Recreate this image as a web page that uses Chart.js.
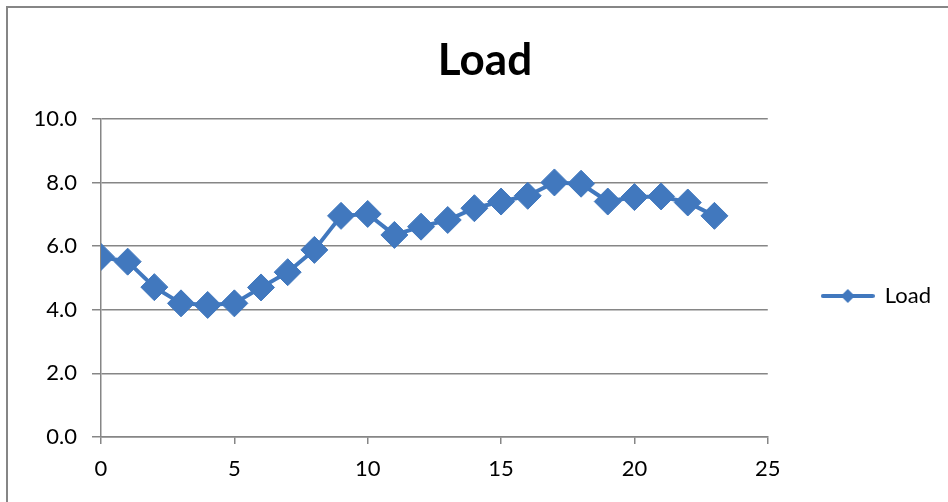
<!DOCTYPE html>
<html>
<head>
<meta charset="utf-8">
<script src="https://cdn.jsdelivr.net/npm/chart.js@4.4.1/dist/chart.umd.min.js"></script>
<style>
  html, body { margin: 0; padding: 0; background: #fff; overflow: hidden; }
  #frame { position: absolute; left: 6px; top: 6px; width: 980px; height: 530px; border: 2px solid #868686; }
  #wrap { position: absolute; left: 0; top: 0; width: 948px; height: 502px; }
</style>
</head>
<body>
<div id="frame"></div>
<div id="wrap"><canvas id="chart" width="948" height="502"></canvas></div>
<script>
var hours = [0, 1, 2, 3, 4, 5, 6, 7, 8, 9, 10, 11, 12, 13, 14, 15, 16, 17, 18, 19, 20, 21, 22, 23]
var load = [5.66, 5.51, 4.71, 4.20, 4.15, 4.20, 4.70, 5.18, 5.88, 6.95, 7.01, 6.35, 6.61, 6.82, 7.19, 7.40, 7.58, 8.00, 7.96, 7.40, 7.54, 7.56, 7.37, 6.95]
var yTicks = [0, 2, 4, 6, 8, 10]
var xTicks = [0, 5, 10, 15, 20, 25]

var blue = '#4178BE'
var gridColor = '#868686'
var fontName = 'Lato'

// legend swatch: line with a diamond in the middle, like Excel
var swatch = document.createElement('canvas')
swatch.width = 54
swatch.height = 18
var sctx = swatch.getContext('2d')
sctx.strokeStyle = blue
sctx.lineWidth = 4
sctx.lineCap = 'round'
sctx.beginPath()
sctx.moveTo(2, 9)
sctx.lineTo(52, 9)
sctx.stroke()
sctx.fillStyle = blue
sctx.beginPath()
sctx.moveTo(27, 2)
sctx.lineTo(34, 9)
sctx.lineTo(27, 16)
sctx.lineTo(20, 9)
sctx.closePath()
sctx.fill()

var points = []
for (var i = 0; i < hours.length; i++) {
  points.push({ x: hours[i], y: load[i] })
}

var ctx = document.getElementById('chart').getContext('2d')
var chart = new Chart(ctx, {
  type: 'scatter',
  data: {
    datasets: [{
      label: 'Load',
      data: points,
      showLine: true,
      borderColor: blue,
      backgroundColor: blue,
      borderWidth: 4,
      pointStyle: 'rectRot',
      pointRadius: 13.5,
      pointHoverRadius: 13.5,
      pointBorderWidth: 1
    }]
  },
  options: {
    responsive: false,
    animation: false,
    events: [],
    layout: { padding: { left: 29, right: 7, top: 0, bottom: 0 } },
    plugins: {
      title: {
        display: true,
        text: 'Load',
        color: '#000',
        font: { family: fontName, size: 44, weight: 'bold' },
        padding: { top: 34, bottom: 32 }
      },
      legend: {
        position: 'right',
        // empty legend title only pushes the entry down to where Excel puts it
        title: { display: true, text: ' ', font: { size: 10, lineHeight: 1 }, padding: { top: 40, bottom: 40 } },
        labels: {
          usePointStyle: true,
          pointStyleWidth: 52,
          padding: 54,
          color: '#000',
          font: { family: fontName, size: 22 },
          generateLabels: function (c) {
            return [{ text: 'Load', fontColor: '#000', pointStyle: swatch, fillStyle: blue, strokeStyle: blue, lineWidth: 0, hidden: false, datasetIndex: 0 }]
          }
        }
      },
      tooltip: { enabled: false }
    },
    scales: {
      x: {
        type: 'linear',
        min: 0,
        max: 25,
        afterFit: function (s) { s.height = 65 },
        afterBuildTicks: function (s) { s.ticks = xTicks.map(function (v) { return { value: v } }) },
        grid: { drawOnChartArea: false, drawTicks: true, tickLength: 7, color: gridColor, lineWidth: 1.5 },
        border: { display: true, color: gridColor, width: 1.5 },
        ticks: { color: '#000', font: { family: fontName, size: 22 }, padding: 12, maxRotation: 0 }
      },
      y: {
        min: 0,
        max: 10,
        afterFit: function (s) { s.width = 72 },
        afterBuildTicks: function (s) { s.ticks = yTicks.map(function (v) { return { value: v } }) },
        grid: { drawTicks: true, tickLength: 9, color: gridColor, lineWidth: 1.5 },
        border: { display: true, color: gridColor, width: 1.5 },
        ticks: {
          color: '#000',
          font: { family: fontName, size: 22 },
          padding: 15,
          callback: function (v) { return v.toFixed(1) }
        }
      }
    }
  }
})
</script>
</body>
</html>
